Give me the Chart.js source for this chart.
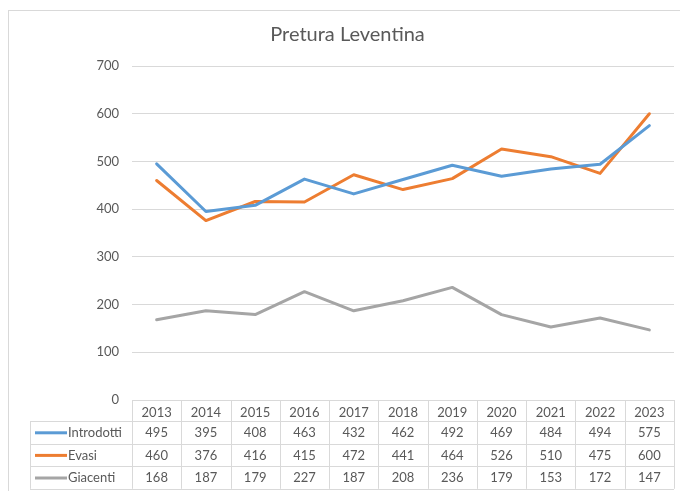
<!DOCTYPE html>
<html>
<head>
<meta charset="utf-8">
<title>Pretura Leventina</title>
<script src="https://cdn.jsdelivr.net/npm/chart.js@4"></script>
<style>
    html, body { margin: 0; padding: 0; background: #ffffff; }
    #wrap { position: relative; width: 680px; height: 491px; }
</style>
</head>
<body>
<div id="wrap"><canvas id="chart" width="680" height="491"></canvas></div>
<script>
// Pretura Leventina - cases by year (Excel style line chart with data table)

const chartTitle = 'Pretura Leventina';
const years = ['2013', '2014', '2015', '2016', '2017', '2018', '2019', '2020', '2021', '2022', '2023'];
const introdotti = [495, 395, 408, 463, 432, 462, 492, 469, 484, 494, 575];
const evasi = [460, 376, 416, 415, 472, 441, 464, 526, 510, 475, 600];
const giacenti = [168, 187, 179, 227, 187, 208, 236, 179, 153, 172, 147];
const yTicks = [0, 100, 200, 300, 400, 500, 600, 700];

const TEXT = '#595959';
const GRID = '#d9d9d9';
const FONT = 'Lato, "Open Sans", sans-serif';

// draws the outer frame, the title and the data table under the x axis
const dataTablePlugin = {
    id: 'dataTable',
    beforeDraw(chart) {
        const ctx = chart.ctx;
        ctx.save();
        ctx.strokeStyle = GRID;
        ctx.lineWidth = 1;
        ctx.strokeRect(8.5, 10.5, 720, 520);
        ctx.fillStyle = TEXT;
        ctx.font = '20px ' + FONT;
        ctx.textAlign = 'center';
        ctx.textBaseline = 'middle';
        ctx.fillText(chartTitle, 347.5, 35);
        ctx.restore();
    },
    afterDraw(chart) {
        const ctx = chart.ctx;
        const xs = chart.scales.x;
        const area = chart.chartArea;
        const cellW = xs.getPixelForValue(1) - xs.getPixelForValue(0);
        const headTop = area.bottom;
        const headBottom = xs.bottom;
        const rowH = 22.6;
        const rows = chart.data.datasets;
        const tableBottom = headBottom + rowH * rows.length;
        const labelLeft = 30;

        ctx.save();
        ctx.strokeStyle = GRID;
        ctx.lineWidth = 1;
        ctx.beginPath();
        // vertical cell borders
        for (let i = 0; i <= years.length; i++) {
            const x = Math.round(xs.getPixelForValue(0) - cellW / 2 + i * cellW) + 0.5;
            ctx.moveTo(x, headTop);
            ctx.lineTo(x, tableBottom);
        }
        ctx.moveTo(labelLeft + 0.5, headBottom);
        ctx.lineTo(labelLeft + 0.5, tableBottom);
        // horizontal row borders
        for (let r = 0; r <= rows.length; r++) {
            const y = Math.round(headBottom + r * rowH) + 0.5;
            ctx.moveTo(labelLeft, y);
            ctx.lineTo(area.right, y);
        }
        ctx.stroke();

        ctx.font = '13px ' + FONT;
        ctx.textBaseline = 'middle';
        rows.forEach((ds, r) => {
            const cy = headBottom + r * rowH + rowH / 2 + 0.5;
            // legend key
            ctx.strokeStyle = ds.borderColor;
            ctx.lineWidth = 3;
            ctx.beginPath();
            ctx.moveTo(35, cy);
            ctx.lineTo(67, cy);
            ctx.stroke();
            ctx.fillStyle = TEXT;
            ctx.textAlign = 'left';
            ctx.fillText(ds.label, 68, cy);
            // values
            ctx.textAlign = 'center';
            ds.data.forEach((v, i) => {
                ctx.fillText(String(v), xs.getPixelForValue(i), cy);
            });
        });
        ctx.restore();
    }
};

const ctx = document.getElementById('chart').getContext('2d');

new Chart(ctx, {
    type: 'line',
    data: {
        labels: years,
        datasets: [
            { label: 'Introdotti', data: introdotti, borderColor: '#5b9bd5' },
            { label: 'Evasi', data: evasi, borderColor: '#ed7d31' },
            { label: 'Giacenti', data: giacenti, borderColor: '#a5a5a5' }
        ]
    },
    options: {
        responsive: false,
        animation: false,
        layout: {
            padding: { left: 0, top: 66, right: 6, bottom: 70 }
        },
        elements: {
            line: {
                borderWidth: 3,
                tension: 0,
                borderJoinStyle: 'round',
                borderCapStyle: 'round',
                fill: false
            },
            point: { radius: 0, hoverRadius: 0 }
        },
        plugins: {
            legend: { display: false },
            tooltip: { enabled: false },
            title: { display: false }
        },
        scales: {
            x: {
                offset: true,
                grid: { display: false },
                border: { display: false },
                ticks: {
                    color: TEXT,
                    font: { family: FONT, size: 13 },
                    padding: -3,
                    maxRotation: 0,
                    autoSkip: false
                },
                afterFit(scale) { scale.height = 21; }
            },
            y: {
                min: 0,
                max: 700,
                grid: { color: GRID, drawTicks: false },
                border: { display: false },
                afterBuildTicks(scale) {
                    scale.ticks = yTicks.map(v => ({ value: v }));
                },
                ticks: {
                    color: TEXT,
                    font: { family: FONT, size: 13 },
                    padding: 13
                },
                afterFit(scale) { scale.width = 132; }
            }
        }
    },
    plugins: [dataTablePlugin]
});
</script>
</body>
</html>
